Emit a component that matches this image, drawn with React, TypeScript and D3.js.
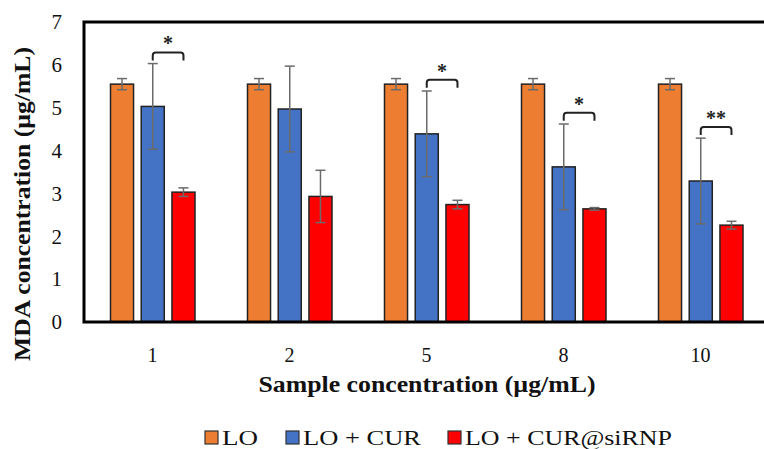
import React from 'react'
import * as d3 from 'd3'

const categories = ['1', '2', '5', '8', '10']
const seriesNames = ['LO', 'LO + CUR', 'LO + CUR@siRNP']
const loValues = [5.55, 5.55, 5.55, 5.55, 5.55]
const loErrors = [0.13, 0.13, 0.13, 0.13, 0.13]
const curValues = [5.03, 4.97, 4.39, 3.62, 3.29]
const curErrors = [1.0, 1.0, 1.0, 1.0, 1.0]
const sirnpValues = [3.03, 2.93, 2.74, 2.64, 2.26]
const sirnpErrors = [0.1, 0.61, 0.1, 0.03, 0.09]
const significance = ['*', '', '*', '*', '**']
const yTicks = [0, 1, 2, 3, 4, 5, 6, 7]

const colors = ['#ED7D31', '#4472C4', '#FF0000']
const font = '"Liberation Serif", "Times New Roman", serif'

const width = 764
const height = 449
const margin = { left: 84, top: 22, bottom: 127 }
const plotRight = 769

const App = () => {
  const values = [loValues, curValues, sirnpValues]
  const errors = [loErrors, curErrors, sirnpErrors]

  const y = d3
    .scaleLinear()
    .domain([0, 7])
    .range([height - margin.bottom, margin.top])
  const x0 = d3.scaleBand().domain(categories).range([margin.left, plotRight])
  const x1 = d3
    .scaleBand()
    .domain(seriesNames)
    .range([26.5, 111])
    .paddingInner(0.25)

  // legend layout
  const legendX = [205, 286, 448]
  const legendLen = [36, 118, 207]

  return (
    <svg
      width={width}
      height={height}
      style={{ position: 'absolute', left: 0, top: 0, background: '#fff' }}
      fontFamily={font}
    >
      {/* y ticks */}
      {yTicks.map(t => (
        <text
          key={t}
          x={62}
          y={y(t)}
          dy="0.35em"
          textAnchor="end"
          fontSize={21}
          fill="#111"
        >
          {t}
        </text>
      ))}

      {/* bars */}
      {categories.map((c, i) => (
        <g key={c} transform={`translate(${x0(c)},0)`}>
          {seriesNames.map((s, k) => {
            const v = values[k][i]
            const e = errors[k][i]
            const bx = x1(s)
            const cx = bx + x1.bandwidth() / 2
            return (
              <g key={s}>
                <rect
                  x={bx}
                  y={y(v)}
                  width={x1.bandwidth()}
                  height={y(0) - y(v)}
                  fill={colors[k]}
                  stroke="#222"
                  strokeWidth={1.5}
                />
                <g stroke="#6b6b6b" strokeWidth={1.5}>
                  <line x1={cx} x2={cx} y1={y(v + e)} y2={y(v - e)} />
                  <line x1={cx - 5} x2={cx + 5} y1={y(v + e)} y2={y(v + e)} />
                  <line x1={cx - 5} x2={cx + 5} y1={y(v - e)} y2={y(v - e)} />
                </g>
              </g>
            )
          })}
          {significance[i] && (() => {
            const bx1 = x1(seriesNames[1]) + x1.bandwidth() / 2
            const bx2 = x1(seriesNames[2]) + x1.bandwidth() / 2
            const by = y(curValues[i] + curErrors[i] + 0.26)
            return (
              <g>
                <path
                  d={`M${bx1},${by + 8} L${bx1},${by + 3} Q${bx1},${by} ${bx1 + 3},${by} L${bx2 - 3},${by} Q${bx2},${by} ${bx2},${by + 3} L${bx2},${by + 8}`}
                  fill="none"
                  stroke="#222"
                  strokeWidth={2}
                />
                <text
                  x={(bx1 + bx2) / 2}
                  y={by - 2}
                  textAnchor="middle"
                  fontSize={20}
                  fontWeight="bold"
                  fill="#222"
                >
                  {significance[i]}
                </text>
              </g>
            )
          })()}
          <text
            x={x0.bandwidth() / 2}
            y={y(0) + 40}
            textAnchor="middle"
            fontSize={20}
            fill="#111"
          >
            {c}
          </text>
        </g>
      ))}

      {/* plot frame */}
      <rect
        x={margin.left}
        y={margin.top}
        width={plotRight - margin.left}
        height={y(0) - margin.top}
        fill="none"
        stroke="#000"
        strokeWidth={3}
      />

      {/* axis titles */}
      <text
        transform={`translate(30,${204}) rotate(-90)`}
        textAnchor="middle"
        fontSize={23}
        fontWeight="bold"
        textLength={314}
        lengthAdjust="spacingAndGlyphs"
        fill="#111"
      >
        MDA concentration (µg/mL)
      </text>
      <text
        x={427}
        y={392}
        textAnchor="middle"
        fontSize={23}
        fontWeight="bold"
        textLength={337}
        lengthAdjust="spacingAndGlyphs"
        fill="#111"
      >
        Sample concentration (µg/mL)
      </text>

      {/* legend */}
      {seriesNames.map((s, k) => (
        <g key={s} transform={`translate(${legendX[k]},431)`}>
          <rect
            width={13}
            height={13}
            fill={colors[k]}
            stroke="#333"
            strokeWidth={1.2}
          />
          <text
            x={17}
            y={13.5}
            fontSize={22}
            textLength={legendLen[k]}
            lengthAdjust="spacingAndGlyphs"
            fill="#111"
          >
            {s}
          </text>
        </g>
      ))}
    </svg>
  )
}

export default App
